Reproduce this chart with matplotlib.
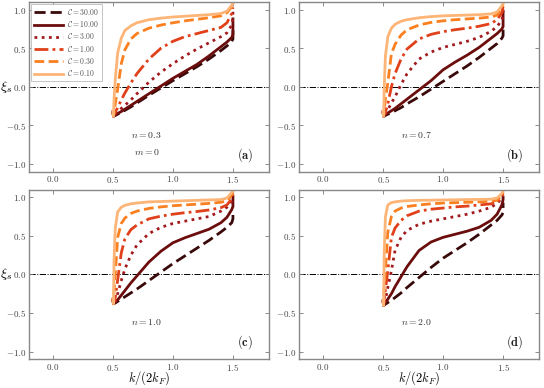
import numpy as np
import matplotlib
matplotlib.use('Agg')
import matplotlib.pyplot as plt

plt.rcParams['mathtext.fontset'] = 'cm'
plt.rcParams['font.family'] = 'serif'
plt.rcParams['font.serif'] = ['DejaVu Serif']

# couplings (legend order) and momentum grid k/(2k_F)
C_vals = [30.0, 10.0, 3.0, 1.0, 0.3, 0.1]
k_grid = [0.5, 0.505, 0.51, 0.52, 0.54, 0.57, 0.6, 0.65, 0.7, 0.8, 0.9,
          1.0, 1.1, 1.2, 1.3, 1.4, 1.45, 1.49, 1.5, 1.5]

# xi_s, one row per C (30, 10, 3, 1, 0.3, 0.1)
xi_n03 = [
    [-0.32, -0.38, -0.378, -0.37, -0.355, -0.33, -0.305, -0.26, -0.21, -0.11, -0.015, 0.08, 0.17, 0.26, 0.36, 0.47, 0.53, 0.59, 0.62, 0.80],
    [-0.32, -0.38, -0.375, -0.365, -0.345, -0.32, -0.29, -0.24, -0.19, -0.09, 0.01, 0.11, 0.20, 0.29, 0.40, 0.52, 0.58, 0.64, 0.68, 0.88],
    [-0.32, -0.38, -0.37, -0.35, -0.32, -0.28, -0.24, -0.17, -0.09, 0.06, 0.19, 0.30, 0.40, 0.49, 0.57, 0.65, 0.70, 0.80, 0.90, 1.00],
    [-0.32, -0.38, -0.36, -0.33, -0.27, -0.17, -0.08, 0.05, 0.17, 0.36, 0.50, 0.59, 0.65, 0.69, 0.73, 0.77, 0.83, 0.95, 1.03, 1.03],
    [-0.32, -0.38, -0.33, -0.22, -0.03, 0.30, 0.48, 0.62, 0.69, 0.76, 0.80, 0.83, 0.855, 0.875, 0.895, 0.92, 0.96, 1.04, 1.07, 1.07],
    [-0.32, -0.38, -0.15, 0.10, 0.44, 0.63, 0.73, 0.79, 0.83, 0.87, 0.89, 0.905, 0.915, 0.925, 0.935, 0.95, 0.98, 1.06, 1.08, 1.08],
]
xi_n07 = [
    [-0.32, -0.38, -0.378, -0.37, -0.355, -0.335, -0.31, -0.27, -0.22, -0.13, -0.03, 0.07, 0.17, 0.27, 0.38, 0.50, 0.56, 0.63, 0.66, 0.74],
    [-0.32, -0.38, -0.375, -0.36, -0.34, -0.31, -0.28, -0.22, -0.16, -0.04, 0.08, 0.22, 0.32, 0.41, 0.51, 0.63, 0.69, 0.75, 0.78, 0.97],
    [-0.32, -0.38, -0.37, -0.35, -0.30, -0.21, -0.13, 0.03, 0.17, 0.36, 0.45, 0.51, 0.55, 0.59, 0.64, 0.72, 0.78, 0.87, 0.92, 1.00],
    [-0.32, -0.38, -0.36, -0.33, -0.22, 0.00, 0.17, 0.36, 0.49, 0.62, 0.68, 0.715, 0.74, 0.76, 0.785, 0.82, 0.87, 0.96, 1.04, 1.04],
    [-0.32, -0.38, -0.30, -0.15, 0.05, 0.43, 0.55, 0.67, 0.74, 0.80, 0.835, 0.855, 0.87, 0.88, 0.89, 0.905, 0.93, 1.02, 1.07, 1.07],
    [-0.32, -0.38, 0.00, 0.40, 0.65, 0.76, 0.81, 0.85, 0.87, 0.895, 0.91, 0.92, 0.925, 0.93, 0.935, 0.945, 0.97, 1.05, 1.08, 1.08],
]
xi_n10 = [
    [-0.32, -0.38, -0.378, -0.37, -0.35, -0.32, -0.29, -0.24, -0.19, -0.08, 0.03, 0.14, 0.24, 0.34, 0.44, 0.55, 0.61, 0.67, 0.72, 0.83],
    [-0.32, -0.38, -0.37, -0.36, -0.33, -0.27, -0.21, -0.11, -0.02, 0.16, 0.30, 0.41, 0.475, 0.53, 0.585, 0.67, 0.74, 0.84, 0.88, 1.01],
    [-0.32, -0.38, -0.37, -0.35, -0.25, -0.08, 0.07, 0.25, 0.38, 0.53, 0.61, 0.66, 0.69, 0.72, 0.75, 0.82, 0.87, 0.95, 0.98, 1.01],
    [-0.32, -0.38, -0.36, -0.30, -0.07, 0.28, 0.46, 0.58, 0.64, 0.72, 0.755, 0.78, 0.80, 0.815, 0.835, 0.865, 0.90, 0.98, 1.04, 1.04],
    [-0.32, -0.38, -0.20, 0.00, 0.48, 0.66, 0.73, 0.79, 0.82, 0.855, 0.875, 0.89, 0.90, 0.91, 0.92, 0.935, 0.955, 1.03, 1.07, 1.07],
    [-0.32, -0.38, 0.20, 0.60, 0.81, 0.87, 0.895, 0.915, 0.925, 0.94, 0.945, 0.95, 0.955, 0.96, 0.965, 0.97, 0.99, 1.06, 1.08, 1.08],
]
xi_n20 = [
    [-0.34, -0.40, -0.395, -0.385, -0.365, -0.335, -0.30, -0.24, -0.17, -0.04, 0.09, 0.21, 0.31, 0.41, 0.52, 0.64, 0.70, 0.77, 0.80, 0.93],
    [-0.34, -0.40, -0.39, -0.37, -0.32, -0.25, -0.16, -0.03, 0.10, 0.31, 0.42, 0.48, 0.52, 0.56, 0.61, 0.70, 0.78, 0.90, 0.97, 1.00],
    [-0.34, -0.40, -0.38, -0.33, -0.17, 0.05, 0.31, 0.48, 0.57, 0.65, 0.69, 0.72, 0.75, 0.78, 0.82, 0.87, 0.92, 0.99, 1.01, 1.01],
    [-0.34, -0.40, -0.33, -0.20, 0.05, 0.48, 0.60, 0.70, 0.76, 0.82, 0.845, 0.86, 0.875, 0.885, 0.90, 0.915, 0.935, 1.00, 1.05, 1.05],
    [-0.34, -0.40, -0.15, 0.05, 0.55, 0.75, 0.82, 0.86, 0.88, 0.90, 0.915, 0.925, 0.93, 0.935, 0.94, 0.95, 0.96, 1.03, 1.07, 1.07],
    [-0.34, -0.40, 0.30, 0.75, 0.90, 0.93, 0.94, 0.95, 0.955, 0.96, 0.962, 0.965, 0.967, 0.97, 0.972, 0.975, 0.99, 1.05, 1.08, 1.08],
]
panels = [xi_n03, xi_n07, xi_n10, xi_n20]
n_labels = ['0.3', '0.7', '1.0', '2.0']
tags = ['a', 'b', 'c', 'd']

colors = ['#3a0a0a', '#6b0d0d', '#a11a1e', '#e0401a', '#fa7f1f', '#fdb577']
styles = [(0, (4, 1.8)), '-', (0, (1, 1.6)), (0, (5, 1.5, 1, 1.5)), (0, (3.5, 1.6)), '-']

fig, axes = plt.subplots(2, 2, figsize=(5.44, 3.88), dpi=100)
fig.subplots_adjust(left=0.053, right=0.991, top=0.995, bottom=0.074,
                    wspace=0.125, hspace=0.105)

for i, ax in enumerate(axes.flat):
    ax.axhline(0, color='k', ls='-.', lw=0.7, zorder=1)
    for j in range(len(C_vals)):
        ax.plot(k_grid, panels[i][j], color=colors[j], ls=styles[j], lw=2.0,
                label=r'$\mathcal{C} = %.2f$' % C_vals[j])
    ax.set_xlim(-0.2, 1.8)
    ax.set_ylim(-1.1, 1.1)
    ax.set_xticks([0.0, 0.5, 1.0, 1.5])
    ax.set_yticks([-1.0, -0.5, 0.0, 0.5, 1.0])
    ax.set_xticklabels(['$0.0$', '$0.5$', '$1.0$', '$1.5$'])
    ax.set_yticklabels(['$-1.0$', '$-0.5$', '$0.0$', '$0.5$', '$1.0$'])
    ax.tick_params(direction='in', top=True, right=True, labelsize=6.5,
                   length=3, width=0.6, color='#777777', labelcolor='#444444',
                   pad=1.8)
    for s in ax.spines.values():
        s.set_color('#888888')
        s.set_linewidth(1.0)
    ax.text(0.78, -0.62, r'$n = %s$' % n_labels[i], ha='center', va='center',
            fontsize=7, color='#333333')
    ax.text(1.6, -0.88, r'$(\mathbf{%s})$' % tags[i], ha='center', va='center',
            fontsize=9, color='#222222')
    if i % 2 == 0:
        ax.set_ylabel(r'$\xi_s$', fontsize=10, rotation=0, ha='center', va='center')
        ax.yaxis.set_label_coords(-0.095, 0.5)
    if i >= 2:
        ax.set_xlabel(r'$k/(2k_F)$', fontsize=9)
        ax.xaxis.set_label_coords(0.5, -0.058)

axes[0, 0].text(0.78, -0.85, r'$m = 0$', ha='center', va='center',
                fontsize=7, color='#333333')

leg = axes[0, 0].legend(loc='upper left', fontsize=5.5, handlelength=3.8,
                        labelspacing=0.3, borderpad=0.4, handletextpad=0.6,
                        borderaxespad=0.25, fancybox=False, framealpha=1)
leg.get_frame().set_edgecolor('#bbbbbb')
leg.get_frame().set_linewidth(0.6)
for t in leg.get_texts():
    t.set_color('#555555')

fig.savefig('out.png', dpi=100)
